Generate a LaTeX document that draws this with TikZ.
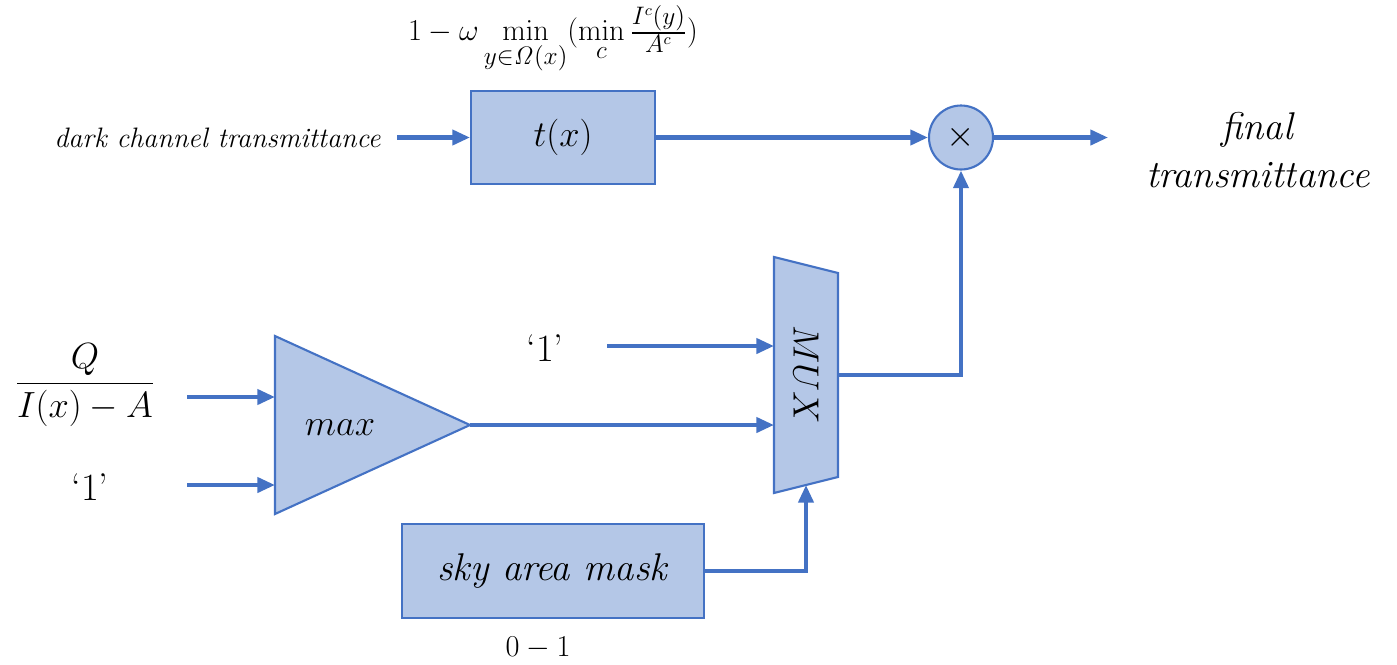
\documentclass[tikz,border=0pt]{standalone}
\usepackage{amsmath}
\usetikzlibrary{arrows.meta,shapes.geometric,calc}

\definecolor{mublue}{HTML}{4472C4}
\definecolor{mufill}{HTML}{B4C7E7}

\tikzset{
  blk/.style={draw=mublue, fill=mufill, line width=1.2pt, inner sep=0pt},
  sig/.style={draw=mublue, line width=2.3pt, -{Triangle[length=10pt,width=8.5pt]}},
  wire/.style={draw=mublue, line width=2.3pt},
  big/.style={font=\fontsize{22}{27}\selectfont},
  mid/.style={font=\fontsize{19}{23}\selectfont},
  small/.style={font=\fontsize{16}{19}\selectfont},
}

\begin{document}
\begin{tikzpicture}[x=0.02cm, y=-0.02cm]
  \useasboundingbox (0,0) rectangle (1397,664);

  % ==================== top path: dark channel ====================
  \node[mid] (formula) at (553,40) {$1-\omega\min\limits_{y\in\mathit{\Omega}(x)}(\min\limits_{c}\frac{I^{c}(y)}{A^{c}})$};
  \node[blk, big, minimum width=3.68cm, minimum height=1.86cm] (tbox) at (563,137.5) {$t(x)$};
  \node[small, anchor=east, inner sep=0pt] (dark) at (381,137.5) {\textit{dark channel transmittance}};
  \coordinate (darkA) at (397,137.5);
  \draw[sig] (darkA) -- (tbox.west);

  % multiplier
  \node[blk, circle, minimum size=1.28cm, font=\fontsize{20}{24}\selectfont] (mul) at (961,137.5) {$\times$};
  \draw[sig] (tbox.east) -- (mul.west);
  \coordinate (outend) at (1108,137.5);
  \draw[sig] (mul.east) -- (outend);
  \node[big, align=center] (final) at (1258,150) {\textit{final}\\\textit{transmittance}};

  % ==================== max block ====================
  \coordinate (maxT) at (275,336);
  \coordinate (maxTip) at (470,425);
  \coordinate (maxB) at (275,514);
  \draw[blk] (maxT) -- (maxTip) -- (maxB) -- cycle;
  \node[big] (maxlbl) at (340,428) {$max$};

  \node[big] (frac) at (85,385) {$\dfrac{Q}{I(x)-A}$};
  \node[big] (oneL) at (90,487) {`1'};
  \coordinate (fracA) at (187,397);
  \coordinate (oneLA) at (187,485);
  \draw[sig] (fracA) -- (fracA -| maxT);
  \draw[sig] (oneLA) -- (oneLA -| maxT);

  % ==================== MUX ====================
  \coordinate (muxTL) at (774,257);
  \coordinate (muxTR) at (838,273);
  \coordinate (muxBR) at (838,477);
  \coordinate (muxBL) at (774,493);
  \coordinate (muxsel) at (806,485);
  \coordinate (muxout) at (838,375);
  \draw[blk] (muxTL) -- (muxTR) -- (muxBR) -- (muxBL) -- cycle;
  \node[font=\fontsize{20}{24}\selectfont, rotate=-90] (muxlbl) at (806,375) {$MUX$};

  \node[big] (oneT) at (545,348) {`1'};
  \coordinate (oneTA) at (607,346);
  \draw[sig] (oneTA) -- (oneTA -| muxTL);
  \draw[sig] (maxTip) -- (maxTip -| muxTL);
  \draw[sig] (muxout) -| (mul.south);

  % ==================== sky area mask ====================
  \node[blk, big, minimum width=6.04cm, minimum height=1.88cm] (sky) at (553,571) {\textit{sky area mask}};
  \node[mid] (range) at (538,648) {$0-1$};
  \draw[sig] (sky.east) -| (muxsel);

\end{tikzpicture}
\end{document}
